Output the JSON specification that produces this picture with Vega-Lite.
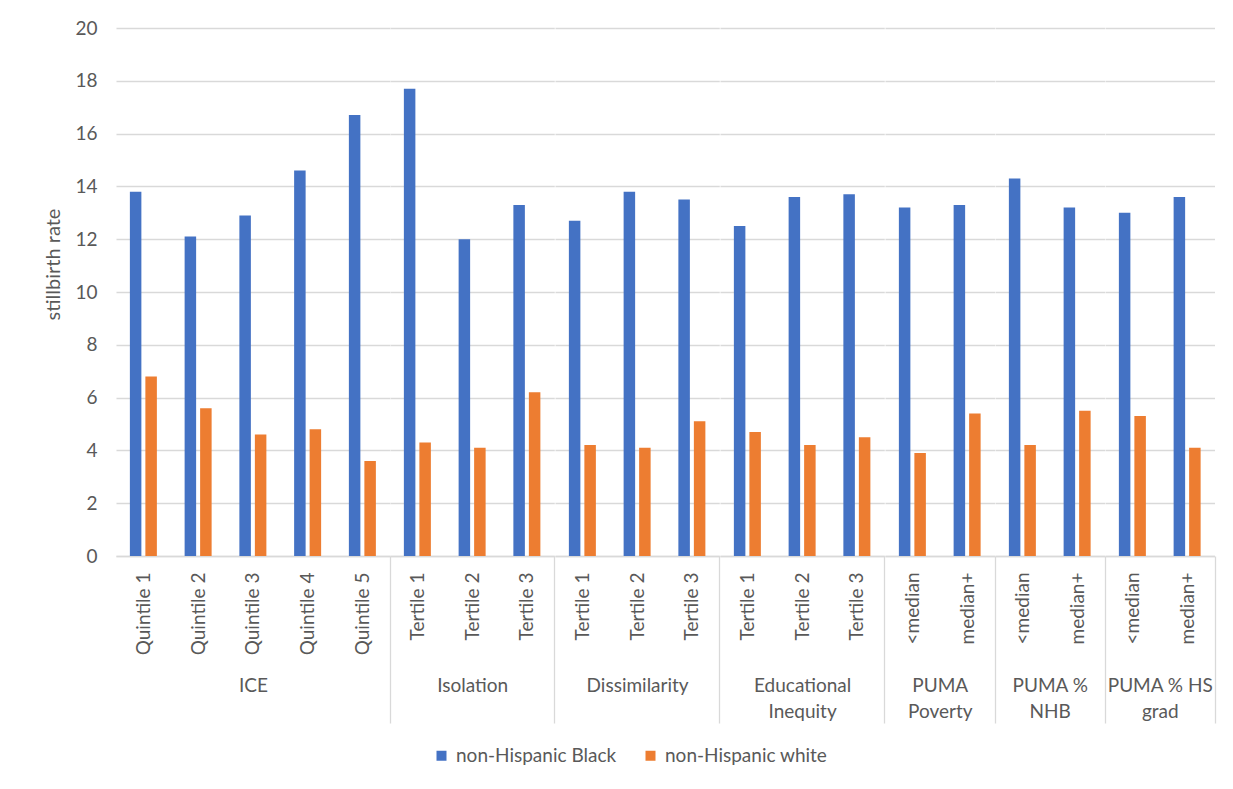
{
  "$schema": "https://vega.github.io/schema/vega-lite/v6.json",
  "background": "white",
  "padding": {"left": 43, "top": 19, "right": 20, "bottom": 10},
  "data": {"values": [
    {"group": "ICE", "sub": "Quintile 1", "series": "non-Hispanic Black", "value": 13.8},
    {"group": "ICE", "sub": "Quintile 1", "series": "non-Hispanic white", "value": 6.8},
    {"group": "ICE", "sub": "Quintile 2", "series": "non-Hispanic Black", "value": 12.1},
    {"group": "ICE", "sub": "Quintile 2", "series": "non-Hispanic white", "value": 5.6},
    {"group": "ICE", "sub": "Quintile 3", "series": "non-Hispanic Black", "value": 12.9},
    {"group": "ICE", "sub": "Quintile 3", "series": "non-Hispanic white", "value": 4.6},
    {"group": "ICE", "sub": "Quintile 4", "series": "non-Hispanic Black", "value": 14.6},
    {"group": "ICE", "sub": "Quintile 4", "series": "non-Hispanic white", "value": 4.8},
    {"group": "ICE", "sub": "Quintile 5", "series": "non-Hispanic Black", "value": 16.7},
    {"group": "ICE", "sub": "Quintile 5", "series": "non-Hispanic white", "value": 3.6},
    {"group": "Isolation", "sub": "Tertile 1", "series": "non-Hispanic Black", "value": 17.7},
    {"group": "Isolation", "sub": "Tertile 1", "series": "non-Hispanic white", "value": 4.3},
    {"group": "Isolation", "sub": "Tertile 2", "series": "non-Hispanic Black", "value": 12.0},
    {"group": "Isolation", "sub": "Tertile 2", "series": "non-Hispanic white", "value": 4.1},
    {"group": "Isolation", "sub": "Tertile 3", "series": "non-Hispanic Black", "value": 13.3},
    {"group": "Isolation", "sub": "Tertile 3", "series": "non-Hispanic white", "value": 6.2},
    {"group": "Dissimilarity", "sub": "Tertile 1", "series": "non-Hispanic Black", "value": 12.7},
    {"group": "Dissimilarity", "sub": "Tertile 1", "series": "non-Hispanic white", "value": 4.2},
    {"group": "Dissimilarity", "sub": "Tertile 2", "series": "non-Hispanic Black", "value": 13.8},
    {"group": "Dissimilarity", "sub": "Tertile 2", "series": "non-Hispanic white", "value": 4.1},
    {"group": "Dissimilarity", "sub": "Tertile 3", "series": "non-Hispanic Black", "value": 13.5},
    {"group": "Dissimilarity", "sub": "Tertile 3", "series": "non-Hispanic white", "value": 5.1},
    {"group": "Educational Inequity", "sub": "Tertile 1", "series": "non-Hispanic Black", "value": 12.5},
    {"group": "Educational Inequity", "sub": "Tertile 1", "series": "non-Hispanic white", "value": 4.7},
    {"group": "Educational Inequity", "sub": "Tertile 2", "series": "non-Hispanic Black", "value": 13.6},
    {"group": "Educational Inequity", "sub": "Tertile 2", "series": "non-Hispanic white", "value": 4.2},
    {"group": "Educational Inequity", "sub": "Tertile 3", "series": "non-Hispanic Black", "value": 13.7},
    {"group": "Educational Inequity", "sub": "Tertile 3", "series": "non-Hispanic white", "value": 4.5},
    {"group": "PUMA Poverty", "sub": "<median", "series": "non-Hispanic Black", "value": 13.2},
    {"group": "PUMA Poverty", "sub": "<median", "series": "non-Hispanic white", "value": 3.9},
    {"group": "PUMA Poverty", "sub": "median+", "series": "non-Hispanic Black", "value": 13.3},
    {"group": "PUMA Poverty", "sub": "median+", "series": "non-Hispanic white", "value": 5.4},
    {"group": "PUMA % NHB", "sub": "<median", "series": "non-Hispanic Black", "value": 14.3},
    {"group": "PUMA % NHB", "sub": "<median", "series": "non-Hispanic white", "value": 4.2},
    {"group": "PUMA % NHB", "sub": "median+", "series": "non-Hispanic Black", "value": 13.2},
    {"group": "PUMA % NHB", "sub": "median+", "series": "non-Hispanic white", "value": 5.5},
    {"group": "PUMA % HS grad", "sub": "<median", "series": "non-Hispanic Black", "value": 13.0},
    {"group": "PUMA % HS grad", "sub": "<median", "series": "non-Hispanic white", "value": 5.3},
    {"group": "PUMA % HS grad", "sub": "median+", "series": "non-Hispanic Black", "value": 13.6},
    {"group": "PUMA % HS grad", "sub": "median+", "series": "non-Hispanic white", "value": 4.1}
  ]},
  "spacing": 0,
  "bounds": "flush",
  "hconcat": [
    {
      "width": 273.75, "height": 528,
      "transform": [{"filter": "datum.group === 'ICE'"}],
      "mark": {"type": "bar"},
      "encoding": {
        "x": {"field": "sub", "type": "nominal", "sort": null, "scale": {"paddingInner": 0, "paddingOuter": 0},
              "axis": {"title": "ICE", "tickOpacity": {"condition": {"test": "datum.index === 1", "value": 1}, "value": 0}}},
        "xOffset": {"field": "series", "type": "nominal", "scale": {"paddingInner": 0.258, "paddingOuter": 0.895}},
        "y": {"field": "value", "type": "quantitative", "scale": {"domain": [0, 20]},
              "axis": {"title": "stillbirth rate", "values": [0,2,4,6,8,10,12,14,16,18,20], "labelPadding": 19, "titlePadding": 11, "titleY": 236}},
        "color": {"field": "series", "type": "nominal", "scale": {"range": ["#4472C4", "#ED7D31"]}, "legend": {"title": null}}
      }
    },
    {
      "width": 164.25, "height": 528,
      "transform": [{"filter": "datum.group === 'Isolation'"}],
      "mark": {"type": "bar"},
      "encoding": {
        "x": {"field": "sub", "type": "nominal", "sort": null, "scale": {"paddingInner": 0, "paddingOuter": 0},
              "axis": {"title": "Isolation", "tickOpacity": {"condition": {"test": "datum.index === 1", "value": 1}, "value": 0}}},
        "xOffset": {"field": "series", "type": "nominal", "scale": {"paddingInner": 0.258, "paddingOuter": 0.895}},
        "y": {"field": "value", "type": "quantitative", "scale": {"domain": [0, 20]},
              "axis": {"title": null, "labels": false, "minExtent": 0, "maxExtent": 0, "values": [0,2,4,6,8,10,12,14,16,18,20]}},
        "color": {"field": "series", "type": "nominal", "scale": {"range": ["#4472C4", "#ED7D31"]}, "legend": {"title": null}}
      }
    },
    {
      "width": 164.25, "height": 528,
      "transform": [{"filter": "datum.group === 'Dissimilarity'"}],
      "mark": {"type": "bar"},
      "encoding": {
        "x": {"field": "sub", "type": "nominal", "sort": null, "scale": {"paddingInner": 0, "paddingOuter": 0},
              "axis": {"title": "Dissimilarity", "tickOpacity": {"condition": {"test": "datum.index === 1", "value": 1}, "value": 0}}},
        "xOffset": {"field": "series", "type": "nominal", "scale": {"paddingInner": 0.258, "paddingOuter": 0.895}},
        "y": {"field": "value", "type": "quantitative", "scale": {"domain": [0, 20]},
              "axis": {"title": null, "labels": false, "minExtent": 0, "maxExtent": 0, "values": [0,2,4,6,8,10,12,14,16,18,20]}},
        "color": {"field": "series", "type": "nominal", "scale": {"range": ["#4472C4", "#ED7D31"]}, "legend": {"title": null}}
      }
    },
    {
      "width": 164.25, "height": 528,
      "transform": [{"filter": "datum.group === 'Educational Inequity'"}],
      "mark": {"type": "bar"},
      "encoding": {
        "x": {"field": "sub", "type": "nominal", "sort": null, "scale": {"paddingInner": 0, "paddingOuter": 0},
              "axis": {"title": ["Educational", "Inequity"], "tickOpacity": {"condition": {"test": "datum.index === 1", "value": 1}, "value": 0}}},
        "xOffset": {"field": "series", "type": "nominal", "scale": {"paddingInner": 0.258, "paddingOuter": 0.895}},
        "y": {"field": "value", "type": "quantitative", "scale": {"domain": [0, 20]},
              "axis": {"title": null, "labels": false, "minExtent": 0, "maxExtent": 0, "values": [0,2,4,6,8,10,12,14,16,18,20]}},
        "color": {"field": "series", "type": "nominal", "scale": {"range": ["#4472C4", "#ED7D31"]}, "legend": {"title": null}}
      }
    },
    {
      "width": 109.5, "height": 528,
      "transform": [{"filter": "datum.group === 'PUMA Poverty'"}],
      "mark": {"type": "bar"},
      "encoding": {
        "x": {"field": "sub", "type": "nominal", "sort": null, "scale": {"paddingInner": 0, "paddingOuter": 0},
              "axis": {"title": ["PUMA", "Poverty"], "tickOpacity": {"condition": {"test": "datum.index === 1", "value": 1}, "value": 0}}},
        "xOffset": {"field": "series", "type": "nominal", "scale": {"paddingInner": 0.258, "paddingOuter": 0.895}},
        "y": {"field": "value", "type": "quantitative", "scale": {"domain": [0, 20]},
              "axis": {"title": null, "labels": false, "minExtent": 0, "maxExtent": 0, "values": [0,2,4,6,8,10,12,14,16,18,20]}},
        "color": {"field": "series", "type": "nominal", "scale": {"range": ["#4472C4", "#ED7D31"]}, "legend": {"title": null}}
      }
    },
    {
      "width": 109.5, "height": 528,
      "transform": [{"filter": "datum.group === 'PUMA % NHB'"}],
      "mark": {"type": "bar"},
      "encoding": {
        "x": {"field": "sub", "type": "nominal", "sort": null, "scale": {"paddingInner": 0, "paddingOuter": 0},
              "axis": {"title": ["PUMA %", "NHB"], "tickOpacity": {"condition": {"test": "datum.index === 1", "value": 1}, "value": 0}}},
        "xOffset": {"field": "series", "type": "nominal", "scale": {"paddingInner": 0.258, "paddingOuter": 0.895}},
        "y": {"field": "value", "type": "quantitative", "scale": {"domain": [0, 20]},
              "axis": {"title": null, "labels": false, "minExtent": 0, "maxExtent": 0, "values": [0,2,4,6,8,10,12,14,16,18,20]}},
        "color": {"field": "series", "type": "nominal", "scale": {"range": ["#4472C4", "#ED7D31"]}, "legend": {"title": null}}
      }
    },
    {
      "width": 109.5, "height": 528,
      "transform": [{"filter": "datum.group === 'PUMA % HS grad'"}],
      "mark": {"type": "bar"},
      "encoding": {
        "x": {"field": "sub", "type": "nominal", "sort": null, "scale": {"paddingInner": 0, "paddingOuter": 0},
              "axis": {"title": ["PUMA % HS", "grad"], "tickOpacity": {"condition": {"test": "datum.index === 1 || datum.index === 0.5", "value": 1}, "value": 0}}},
        "xOffset": {"field": "series", "type": "nominal", "scale": {"paddingInner": 0.258, "paddingOuter": 0.895}},
        "y": {"field": "value", "type": "quantitative", "scale": {"domain": [0, 20]},
              "axis": {"title": null, "labels": false, "minExtent": 0, "maxExtent": 0, "values": [0,2,4,6,8,10,12,14,16,18,20]}},
        "color": {"field": "series", "type": "nominal", "scale": {"range": ["#4472C4", "#ED7D31"]}, "legend": {"title": null}}
      }
    }
  ],
  "config": {
    "concat": {"spacing": 0},
    "view": {"stroke": null},
    "font": "Lato",
    "axis": {"labelFont": "Lato", "titleFont": "Lato", "labelColor": "#595959", "titleColor": "#595959", "titleFontWeight": "normal", "gridColor": "#d9d9d9", "gridWidth": 1.3, "domainColor": "#d9d9d9", "domainWidth": 1.3, "tickColor": "#d9d9d9", "tickWidth": 1.3},
    "axisY": {"labelFontSize": 19, "titleFontSize": 20, "domain": false, "ticks": false, "grid": true},
    "axisX": {"labelFontSize": 19, "titleFontSize": 19, "labelAngle": -90, "labelAlign": "right", "labelBaseline": "middle", "labelPadding": -151, "grid": false, "tickBand": "extent", "tickSize": 167, "titleY": 120, "titleBaseline": "top", "titleLineHeight": 26, "labelLimit": 200},
    "legend": {"orient": "bottom", "direction": "horizontal", "labelFont": "Lato", "labelFontSize": 19, "labelLimit": 300, "labelColor": "#595959", "symbolType": "square", "symbolSize": 100, "symbolStrokeWidth": 0, "columnPadding": 24, "labelOffset": 5, "offset": 22, "layout": {"bottom": {"anchor": "middle"}}}
  }
}
